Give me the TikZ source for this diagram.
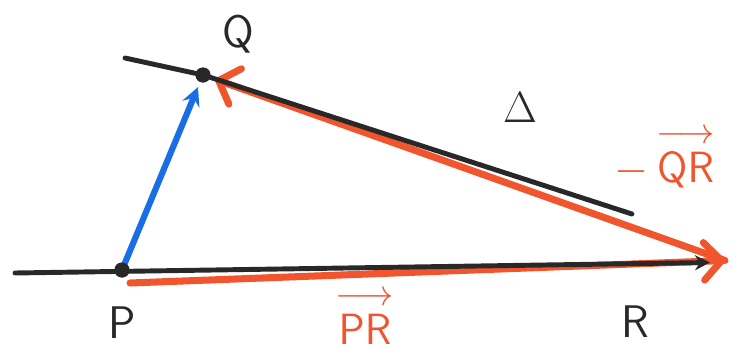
\documentclass[tikz,border=0pt]{standalone}
\usepackage{amsmath}
\usepackage{tikz}
\usetikzlibrary{arrows, arrows.meta, positioning, calc}
\usepackage{xcolor}
\definecolor{penRed}{RGB}{240, 85, 45}
\definecolor{penBlue}{RGB}{25, 110, 230}
\definecolor{penBlack}{RGB}{40, 40, 40}

\begin{document}
\begin{tikzpicture}[
        node distance=0.4cm and 0.5cm,
        font=\sffamily,
        point/.style={circle, fill=penBlack, minimum size=0.3cm, inner sep=0pt},
        letter/.style={text=penBlack, font=\sffamily\fontsize{26}{28}\selectfont},
        veclabel/.style={text=penRed, font=\sffamily\fontsize{28}{30}\selectfont},
        penline/.style={draw=penBlack, line width=2.8pt, line cap=round},
        redarrow/.style={->, >={Straight Barb[length=0.35cm, width=0.75cm, round]}, draw=penRed, line width=4pt, line cap=round},
        bluearrow/.style={->, >=stealth, draw=penBlue, line width=3.5pt, line cap=round}
    ]
        \useasboundingbox (0,0) rectangle (15,7.18);
        \node[point] (P) at (2.44,1.78) {};
        \node[point] (Q) at (4.06,5.68) {};
        \coordinate (R) at (14.5,1.97);
        \coordinate (lineStart) at (0.3,1.72);
        \coordinate (lineEnd) at (14.2,1.93);
        \coordinate (qrStart) at (2.5,6.02);
        \coordinate (qrEnd) at (12.64,2.9);
        \coordinate (prTail) at (2.6,1.52);

        \node[letter, below=0.45cm of P] (Plbl) {P};
        \node[letter, above right=0.2cm and 0.15cm of Q] (Qlbl) {Q};
        \node[letter] (Rlbl) at (12.7,0.74) {R};
        \node[letter] (delta) at (10.4,5.02) {$\Delta$};
        \node[veclabel] (PRlbl) at (7.3,0.85) {$\overset{\longrightarrow}{\mathsf{PR}}$};
        \node[veclabel] (QRlbl) at (13.3,4.05) {$-\,\overset{\longrightarrow}{\mathsf{QR}}$};

        \draw[redarrow] (prTail) -- (R);
        \draw[redarrow, shorten >=3pt] (R) -- (Q);
        \draw[penline, -{Stealth[length=0.3cm, width=0.3cm]}] (lineStart) -- (lineEnd);
        \draw[penline] (qrStart) -- (Q) -- (qrEnd);
        \draw[bluearrow, shorten >=3pt] (P) -- (Q);
        \fill[penBlack] (P) circle (0.15) (Q) circle (0.15);
    \end{tikzpicture}
\end{document}
